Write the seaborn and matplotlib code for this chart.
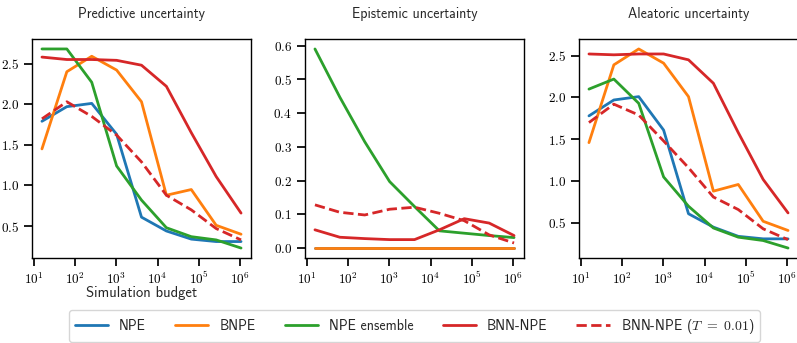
import numpy as np
import pandas as pd
import matplotlib
matplotlib.use("Agg")
import matplotlib.pyplot as plt
import seaborn as sns

# Simulation budgets (powers of 4)
budgets = [16, 64, 256, 1024, 4096, 16384, 65536, 262144, 1048576]

methods = ["NPE", "BNPE", "NPE ensemble", "BNN-NPE", r"BNN-NPE ($T\ =\ 0.01$)"]
colors = ["#1f77b4", "#ff7f0e", "#2ca02c", "#d62728", "#d62728"]

# Predictive uncertainty
pred_npe = [1.79, 1.97, 2.01, 1.63, 0.61, 0.44, 0.34, 0.31, 0.31]
pred_bnpe = [1.45, 2.40, 2.59, 2.42, 2.03, 0.88, 0.95, 0.51, 0.40]
pred_ens = [2.68, 2.68, 2.27, 1.24, 0.82, 0.48, 0.37, 0.33, 0.23]
pred_bnn = [2.58, 2.55, 2.55, 2.54, 2.48, 2.22, 1.65, 1.11, 0.66]
pred_bnn_t = [1.82, 2.03, 1.85, 1.62, 1.29, 0.88, 0.70, 0.47, 0.33]

# Epistemic uncertainty
epi_npe = [0.0, 0.0, 0.0, 0.0, 0.0, 0.0, 0.0, 0.0, 0.0]
epi_bnpe = [0.0, 0.0, 0.0, 0.0, 0.0, 0.0, 0.0, 0.0, 0.0]
epi_ens = [0.590, 0.447, 0.315, 0.197, 0.123, 0.051, 0.044, 0.037, 0.031]
epi_bnn = [0.054, 0.032, 0.028, 0.025, 0.025, 0.054, 0.087, 0.074, 0.037]
epi_bnn_t = [0.128, 0.106, 0.098, 0.115, 0.121, 0.103, 0.081, 0.039, 0.015]

# Aleatoric uncertainty
alea_npe = [1.78, 1.97, 2.01, 1.61, 0.61, 0.45, 0.34, 0.31, 0.31]
alea_bnpe = [1.46, 2.39, 2.58, 2.41, 2.01, 0.88, 0.96, 0.52, 0.41]
alea_ens = [2.10, 2.22, 1.93, 1.05, 0.70, 0.44, 0.33, 0.29, 0.20]
alea_bnn = [2.52, 2.51, 2.52, 2.52, 2.45, 2.17, 1.58, 1.02, 0.62]
alea_bnn_t = [1.70, 1.92, 1.79, 1.48, 1.16, 0.81, 0.66, 0.43, 0.30]

panels = [
    ("Predictive uncertainty", [pred_npe, pred_bnpe, pred_ens, pred_bnn, pred_bnn_t]),
    ("Epistemic uncertainty", [epi_npe, epi_bnpe, epi_ens, epi_bnn, epi_bnn_t]),
    ("Aleatoric uncertainty", [alea_npe, alea_bnpe, alea_ens, alea_bnn, alea_bnn_t]),
]

sns.set_theme(style="ticks")
plt.rcParams.update({
    "font.family": "serif",
    "font.serif": ["cmr10"],
    "mathtext.fontset": "cm",
    "axes.formatter.use_mathtext": True,
    "axes.edgecolor": "black",
    "axes.linewidth": 1.0,
    "xtick.color": "black",
    "ytick.color": "black",
    "xtick.labelsize": 9.5,
    "ytick.labelsize": 9.5,
})

sans = "cmss10"
W, H = 797, 343
fig = plt.figure(figsize=(W / 100, H / 100), dpi=100)

lefts = [32, 305, 579]
width, top, bottom = 219, 39, 258

handles = None
for (title, series), left in zip(panels, lefts):
    ax = fig.add_axes([left / W, 1 - bottom / H, width / W, (bottom - top) / H])
    rows = []
    for name, vals in zip(methods, series):
        for b, v in zip(budgets, vals):
            rows.append({"budget": b, "value": v, "method": name})
    df = pd.DataFrame(rows)
    sns.lineplot(
        data=df, x="budget", y="value", hue="method", style="method",
        hue_order=methods, style_order=methods,
        palette=dict(zip(methods, colors)),
        dashes={m: ((3.7, 1.6) if "0.01" in m else "") for m in methods},
        linewidth=2, ax=ax, legend=True,
    )
    ax.set_xscale("log")
    ax.set_xticks([1e1, 1e2, 1e3, 1e4, 1e5, 1e6])
    ax.set_title(title, family=sans, fontsize=10, pad=15)
    ax.set_ylabel("")
    ax.set_xlabel("")
    ax.tick_params(which="both", direction="out")
    for s in ax.spines.values():
        s.set_visible(True)
    handles, labels = ax.get_legend_handles_labels()
    ax.get_legend().remove()
    if left == lefts[0]:
        ax.set_xlabel("Simulation budget", family=sans, fontsize=10.5, labelpad=-1)

leg = fig.legend(
    handles, labels, loc="center", bbox_to_anchor=(414.5 / W, 1 - 326 / H),
    ncol=5, frameon=True, prop={"family": sans, "size": 10},
    handlelength=2.38, handletextpad=0.8, columnspacing=2.1,
    borderpad=0.45, fancybox=True,
)
leg.get_frame().set_edgecolor("#cccccc")
leg.get_frame().set_linewidth(1.0)

fig.savefig("out.png", dpi=100)
